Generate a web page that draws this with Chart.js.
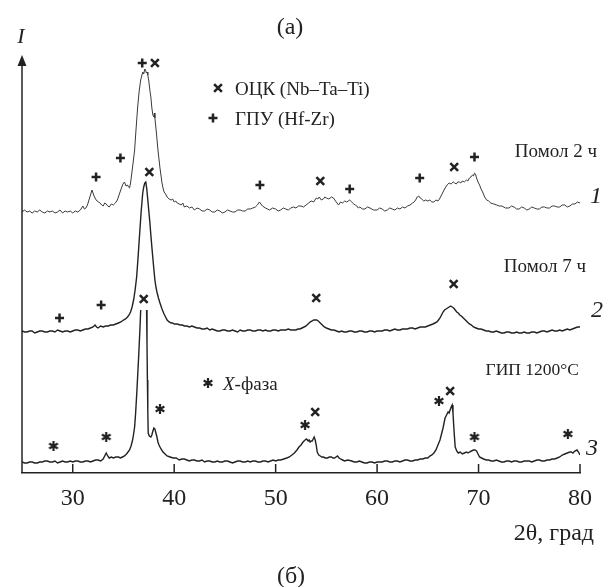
<!DOCTYPE html>
<html>
<head>
<meta charset="utf-8">
<script src="https://cdn.jsdelivr.net/npm/chart.js@4.4.0/dist/chart.umd.min.js"></script>
<style>
html, body { margin: 0; padding: 0; background: #fff; }
</style>
</head>
<body>
<canvas id="xrdChart" width="608" height="587"></canvas>
<script>
// 2theta (deg) and intensity (arb. units, curves stacked as in the figure)
var theta1 = [
    25.0,25.25,25.5,25.75,26.0,26.25,26.5,26.75,27.0,27.25,
    27.5,27.75,28.0,28.25,28.5,28.75,29.0,29.25,29.5,29.75,
    30.0,30.25,30.5,30.75,31.0,31.15,31.3,31.45,31.6,31.75,
    31.9,32.0,32.1,32.25,32.4,32.55,32.7,32.85,33.0,33.15,
    33.3,33.45,33.6,33.8,34.0,34.2,34.4,34.6,34.8,34.95,
    35.1,35.25,35.4,35.5,35.6,35.7,35.8,35.95,36.1,36.25,
    36.4,36.55,36.7,36.8,36.9,37.0,37.1,37.18,37.25,37.33,
    37.4,37.5,37.6,37.7,37.8,37.9,38.0,38.05,38.1,38.25,
    38.4,38.6,38.8,38.9,39.0,39.15,39.3,39.5,39.7,39.85,
    40.0,40.15,40.3,40.5,40.7,40.85,41.0,41.25,41.5,41.75,
    42.0,42.25,42.5,42.75,43.0,43.25,43.5,43.75,44.0,44.25,
    44.5,44.75,45.0,45.25,45.5,45.75,46.0,46.25,46.5,46.75,
    47.0,47.25,47.5,47.75,48.0,48.2,48.4,48.55,48.7,48.85,
    49.0,49.2,49.4,49.7,50.0,50.25,50.5,50.75,51.0,51.25,
    51.5,51.75,52.0,52.25,52.5,52.75,53.0,53.25,53.5,53.75,
    54.0,54.15,54.3,54.5,54.7,54.85,55.0,55.25,55.5,55.7,
    55.9,56.05,56.2,56.4,56.6,56.8,57.0,57.15,57.3,57.5,
    57.7,57.85,58.0,58.15,58.3,58.55,58.8,59.05,59.3,59.65,
    60.0,60.25,60.5,60.75,61.0,61.25,61.5,61.75,62.0,62.25,
    62.5,62.75,63.0,63.25,63.5,63.65,63.8,63.95,64.1,64.25,
    64.4,64.6,64.8,65.0,65.2,65.4,65.6,65.8,66.0,66.15,
    66.3,66.5,66.7,66.9,67.1,67.3,67.5,67.65,67.8,67.95,
    68.1,68.25,68.4,68.6,68.8,68.95,69.1,69.25,69.4,69.5,
    69.6,69.7,69.8,69.95,70.1,70.25,70.4,70.6,70.8,71.0,
    71.2,71.5,71.8,72.05,72.3,72.65,73.0,73.25,73.5,73.75,
    74.0,74.25,74.5,74.75,75.0,75.25,75.5,75.75,76.0,76.25,
    76.5,76.75,77.0,77.25,77.5,77.75,78.0,78.25,78.5,78.75,
    79.0,79.25,79.5,79.75,80.0];
var int1 = [
    261,263,261,262,260,262,261,263,261,260,
    262,261,262,260,261,263,260,262,261,262,
    260,262,261,263,267,264,265,268,273,278,
    283,280,277,274,272,271,270,268,267,270,
    269,267,266,269,268,270,273,279,285,289,
    291,287,288,286,285,290,298,310,323,345,
    366,382,393,397,401,399,404,403,400,401,
    398,392,383,376,365,358,356,360,355,340,
    323,305,290,285,281,279,276,274,273,274,
    271,272,270,269,268,270,266,267,265,266,
    263,265,264,262,262,264,263,261,261,263,
    262,260,261,263,262,261,261,263,263,262,
    262,264,264,265,266,268,271,269,267,266,
    265,264,263,265,264,262,263,265,264,263,
    265,266,265,267,267,266,268,270,272,271,
    275,274,276,273,274,276,275,274,276,275,
    272,270,268,271,270,272,271,272,273,271,
    269,268,267,265,266,264,264,266,265,263,
    263,265,264,262,263,265,264,263,265,264,
    266,265,267,268,270,271,273,276,277,275,
    274,272,273,272,273,271,271,273,272,274,
    277,281,285,288,290,289,291,290,289,291,
    291,290,292,291,293,292,295,296,298,297,
    300,299,295,291,288,284,281,276,273,272,
    270,269,268,267,267,265,265,267,266,264,
    264,266,265,263,264,266,265,264,264,266,
    266,265,265,267,267,266,266,268,268,266,
    267,269,269,271,270];

var theta2 = [
    25.0,25.25,25.5,25.75,26.0,26.25,26.5,26.75,27.0,27.25,
    27.5,27.75,28.0,28.25,28.5,28.75,29.0,29.25,29.5,29.75,
    30.0,30.25,30.5,30.75,31.0,31.25,31.5,31.75,32.0,32.2,
    32.35,32.5,32.75,33.0,33.25,33.5,33.75,34.0,34.25,34.5,
    34.75,35.0,35.2,35.4,35.55,35.7,35.85,36.0,36.15,36.3,
    36.45,36.6,36.75,36.9,37.0,37.1,37.2,37.3,37.4,37.5,
    37.6,37.7,37.8,37.95,38.1,38.2,38.3,38.45,38.6,38.8,
    39.0,39.15,39.3,39.5,39.7,39.85,40.0,40.3,40.6,40.8,
    41.0,41.25,41.5,41.75,42.0,42.25,42.5,42.75,43.0,43.25,
    43.5,43.75,44.0,44.25,44.5,44.75,45.0,45.25,45.5,45.75,
    46.0,46.25,46.5,46.75,47.0,47.25,47.5,47.75,48.0,48.25,
    48.5,48.75,49.0,49.25,49.5,49.75,50.0,50.25,50.5,50.75,
    51.0,51.25,51.5,51.75,52.0,52.2,52.4,52.6,52.8,53.0,
    53.2,53.4,53.6,53.75,53.9,54.05,54.2,54.4,54.6,54.8,
    55.0,55.25,55.5,55.75,56.0,56.25,56.5,56.75,57.0,57.25,
    57.5,57.75,58.0,58.25,58.5,58.75,59.0,59.25,59.5,59.75,
    60.0,60.25,60.5,60.75,61.0,61.25,61.5,61.75,62.0,62.25,
    62.5,62.75,63.0,63.25,63.5,63.75,64.0,64.25,64.5,64.75,
    65.0,65.25,65.5,65.7,65.9,66.05,66.2,66.35,66.5,66.65,
    66.8,66.95,67.1,67.25,67.4,67.55,67.7,67.85,68.0,68.15,
    68.3,68.5,68.7,68.9,69.1,69.3,69.5,69.75,70.0,70.25,
    70.5,70.75,71.0,71.25,71.5,71.75,72.0,72.25,72.5,72.75,
    73.0,73.25,73.5,73.75,74.0,74.25,74.5,74.75,75.0,75.25,
    75.5,75.75,76.0,76.25,76.5,76.75,77.0,77.25,77.5,77.75,
    78.0,78.25,78.5,78.75,79.0,79.25,79.5,79.75,80.0];
var int2 = [
    142,141,141,142,142,140,141,142,142,141,
    141,142,142,141,143,142,141,142,142,141,
    142,143,143,142,143,144,144,145,146,148,
    146,145,147,146,147,147,148,148,149,150,
    151,153,154,156,158,161,166,173,183,196,
    217,240,262,280,286,290,291,284,273,262,
    251,238,226,209,193,186,181,175,170,164,
    159,156,153,151,150,150,149,149,148,148,
    147,147,146,147,146,145,145,144,144,145,
    143,144,143,142,142,143,143,142,142,143,
    142,141,143,142,142,143,143,142,142,143,
    143,142,143,142,142,143,143,142,143,143,
    143,144,143,143,143,144,144,145,146,147,
    149,151,152,153,153,153,152,150,148,146,
    145,144,143,143,142,141,142,141,141,142,
    142,141,141,142,142,141,141,142,142,141,
    142,142,142,143,143,142,143,144,143,143,
    144,144,144,145,145,144,145,146,146,146,
    147,148,149,150,151,153,155,158,161,163,
    164,165,166,167,166,165,163,161,160,158,
    157,155,153,151,149,148,146,145,144,144,
    143,142,142,141,141,142,141,140,140,141,
    141,140,140,141,140,140,141,140,140,141,
    141,140,141,142,142,141,142,143,142,142,
    143,142,143,144,143,144,145,146,146];

// null = top of the cut-off main peak
var theta3 = [
    25.0,25.25,25.5,25.75,26.0,26.25,26.5,26.75,27.0,27.25,
    27.5,27.75,28.0,28.25,28.5,28.75,29.0,29.25,29.5,29.75,
    30.0,30.25,30.5,30.75,31.0,31.25,31.5,31.75,32.0,32.25,
    32.5,32.75,33.0,33.15,33.3,33.45,33.6,33.8,34.0,34.25,
    34.5,34.7,34.9,35.1,35.3,35.45,35.6,35.75,35.9,36.0,
    36.1,36.2,36.33,36.43,36.53,36.62,36.7,37.0,37.28,37.32,
    37.36,37.4,37.44,37.55,37.7,37.8,37.9,38.0,38.1,38.2,
    38.3,38.4,38.5,38.7,38.9,39.1,39.3,39.6,39.9,40.2,
    40.5,40.75,41.0,41.25,41.5,41.75,42.0,42.25,42.5,42.75,
    43.0,43.25,43.5,43.75,44.0,44.25,44.5,44.75,45.0,45.25,
    45.5,45.75,46.0,46.25,46.5,46.75,47.0,47.25,47.5,47.75,
    48.0,48.25,48.5,48.75,49.0,49.25,49.5,49.75,50.0,50.25,
    50.5,50.8,51.1,51.35,51.6,51.85,52.1,52.3,52.5,52.7,
    52.9,53.05,53.2,53.3,53.4,53.5,53.6,53.7,53.8,53.9,
    54.0,54.1,54.25,54.4,54.55,54.7,54.9,55.1,55.3,55.5,
    55.65,55.8,55.95,56.1,56.25,56.4,56.6,56.8,57.1,57.5,
    57.75,58.0,58.25,58.5,58.75,59.0,59.25,59.5,59.75,60.0,
    60.25,60.5,60.75,61.0,61.25,61.5,61.75,62.0,62.25,62.5,
    62.75,63.0,63.25,63.5,63.75,64.0,64.25,64.5,64.75,65.0,
    65.2,65.4,65.6,65.8,66.0,66.2,66.35,66.5,66.6,66.7,
    66.85,67.0,67.1,67.2,67.3,67.4,67.48,67.55,67.62,67.7,
    67.85,68.0,68.2,68.4,68.6,68.8,68.95,69.1,69.3,69.5,
    69.65,69.8,69.95,70.1,70.3,70.5,70.75,71.0,71.25,71.5,
    71.75,72.0,72.25,72.5,72.75,73.0,73.25,73.5,73.75,74.0,
    74.25,74.5,74.75,75.0,75.25,75.5,75.75,76.0,76.25,76.5,
    76.75,77.0,77.25,77.5,77.75,78.0,78.25,78.5,78.75,79.0,
    79.15,79.3,79.5,79.7,79.85,80.0];
var int3 = [
    11,10,10,11,11,10,10,11,11,12,
    12,11,11,12,10,11,12,11,11,12,
    11,12,12,11,11,12,12,11,12,13,
    13,12,14,17,20,17,15,16,15,16,
    16,15,16,17,19,21,23,27,33,39,
    46,60,83,103,123,143,163,null,163,130,
    93,62,40,37,36,38,42,45,44,40,
    36,31,28,24,21,19,17,16,15,15,
    13,14,14,13,12,13,13,12,12,13,
    11,12,12,11,11,12,11,11,12,12,
    11,10,11,12,12,11,11,12,11,12,
    12,11,11,12,12,11,12,13,12,13,
    13,14,15,16,18,20,23,26,28,31,
    33,34,32,33,31,32,32,34,36,33,
    28,21,18,17,16,16,15,15,16,16,
    15,15,16,17,15,14,13,12,13,12,
    11,11,12,11,10,10,11,11,10,11,
    11,11,12,12,11,11,12,12,11,12,
    13,13,12,12,13,13,14,14,15,15,
    17,18,20,23,28,33,39,45,50,55,
    58,61,60,63,66,68,60,48,37,26,
    22,20,21,19,20,21,20,21,22,23,
    23,22,19,16,15,14,13,13,12,12,
    13,12,11,11,12,12,11,12,12,11,
    11,12,12,12,11,12,13,13,12,12,
    13,13,14,14,15,16,18,19,20,21,
    21,20,22,23,21,18];

// phase markers placed above the peaks
var bccTheta = [38.1,54.4,67.6,37.55,54.0,67.55,37.0,53.9,67.2];
var bccInt   = [410,292,306,301,175,189,174,61,82];
var hcpTheta = [36.85,32.3,34.7,48.45,57.3,64.2,69.6,28.7,32.8];
var hcpInt   = [410,296,315,288,284,295,316,155,168];
var xPhaseTheta = [28.1,33.3,38.6,52.9,66.1,69.6,78.8];
var xPhaseInt   = [27,36,64,48,72,36,39];

var xTicks = [30, 40, 50, 60, 70, 80];

function toPoints(xs, ys) {
    return xs.map(function(x, i) { return { x: x, y: ys[i] }; });
}

var SERIF = '"Liberation Serif", "DejaVu Serif", serif';
var INK = '#222';

// six-armed asterisk used for the X-phase marks
function makeAsterisk(r, lw) {
    var c = document.createElement('canvas');
    c.width = c.height = Math.ceil(2 * r + 4);
    var g = c.getContext('2d');
    var m = c.width / 2;
    g.strokeStyle = INK;
    g.lineWidth = lw;
    for (var k = 0; k < 3; k++) {
        var a = Math.PI / 2 + k * Math.PI / 3;
        g.beginPath();
        g.moveTo(m - r * Math.cos(a), m - r * Math.sin(a));
        g.lineTo(m + r * Math.cos(a), m + r * Math.sin(a));
        g.stroke();
    }
    return c;
}
var asterisk = makeAsterisk(5, 2.2);

var decorPlugin = {
    id: 'decor',
    afterDraw: function(chart) {
        var ctx = chart.ctx;
        var area = chart.chartArea;
        var xs = chart.scales.x;
        ctx.save();
        ctx.strokeStyle = INK;
        ctx.fillStyle = INK;
        ctx.lineWidth = 1.5;

        // y axis with arrow
        ctx.beginPath();
        ctx.moveTo(area.left, area.bottom);
        ctx.lineTo(area.left, area.top + 8);
        ctx.stroke();
        ctx.beginPath();
        ctx.moveTo(area.left, area.top);
        ctx.lineTo(area.left - 4.5, area.top + 11);
        ctx.lineTo(area.left + 4.5, area.top + 11);
        ctx.closePath();
        ctx.fill();

        // inward tick marks
        xTicks.forEach(function(v) {
            var px = xs.getPixelForValue(v);
            ctx.beginPath();
            ctx.moveTo(px, area.bottom);
            ctx.lineTo(px, area.bottom - 9);
            ctx.stroke();
        });

        function txt(s, x, y, font, align) {
            ctx.font = font;
            ctx.textAlign = align || 'left';
            ctx.textBaseline = 'alphabetic';
            ctx.fillText(s, x, y);
        }

        txt('(a)', 290, 34, '24px ' + SERIF, 'center');
        txt('(б)', 291, 583, '24px ' + SERIF, 'center');
        txt('I', 21, 43, 'italic 22px ' + SERIF, 'center');
        txt('2θ, град', 594, 540, '24px ' + SERIF, 'right');

        // legend
        ctx.lineWidth = 2.5;
        Chart.helpers.drawPoint(ctx, { pointStyle: 'crossRot', radius: 5.5, borderWidth: 2.5, rotation: 0 }, 218, 88);
        Chart.helpers.drawPoint(ctx, { pointStyle: 'cross', radius: 4.5, borderWidth: 2.5, rotation: 0 }, 213, 118);
        ctx.drawImage(asterisk, 208 - asterisk.width / 2, 383 - asterisk.height / 2);
        txt('ОЦК (Nb–Ta–Ti)', 235, 95, '19px ' + SERIF);
        txt('ГПУ (Hf-Zr)', 235, 125, '19px ' + SERIF);
        txt('X', 223, 390, 'italic 19px ' + SERIF);
        var wX = ctx.measureText('X').width;
        txt('-фаза', 223 + wX, 390, '19px ' + SERIF);

        // curve labels
        txt('Помол 2 ч', 597, 157, '19px ' + SERIF, 'right');
        txt('Помол 7 ч', 586, 272, '19px ' + SERIF, 'right');
        txt('ГИП 1200°C', 579, 375, '17.5px ' + SERIF, 'right');
        txt('1', 590, 203, 'italic 24px ' + SERIF);
        txt('2', 591, 317, 'italic 24px ' + SERIF);
        txt('3', 586, 455, 'italic 24px ' + SERIF);
        ctx.restore();
    }
};

var lineStyle = {
    showLine: true,
    pointRadius: 0,
    borderColor: INK,
    spanGaps: false,
    tension: 0
};

var markerStyle = {
    showLine: false,
    pointBackgroundColor: INK,
    pointBorderColor: INK,
    clip: false
};

var ctx = document.getElementById('xrdChart').getContext('2d');
var xrdChart = new Chart(ctx, {
    type: 'scatter',
    data: {
        datasets: [
            Object.assign({ label: 'Помол 2 ч', data: toPoints(theta1, int1), borderWidth: 1 }, lineStyle, { borderColor: '#3a3a3a' }),
            Object.assign({ label: 'Помол 7 ч', data: toPoints(theta2, int2), borderWidth: 1.4 }, lineStyle),
            Object.assign({ label: 'ГИП 1200°C', data: toPoints(theta3, int3), borderWidth: 1.4 }, lineStyle),
            Object.assign({ label: 'ОЦК', data: toPoints(bccTheta, bccInt), pointStyle: 'crossRot', pointRadius: 5.5, pointBorderWidth: 2.5 }, markerStyle),
            Object.assign({ label: 'ГПУ', data: toPoints(hcpTheta, hcpInt), pointStyle: 'cross', pointRadius: 4.5, pointBorderWidth: 2.5 }, markerStyle),
            Object.assign({ label: 'X-фаза', data: toPoints(xPhaseTheta, xPhaseInt), pointStyle: asterisk, pointRadius: 5 }, markerStyle)
        ]
    },
    options: {
        responsive: false,
        animation: false,
        layout: { padding: { left: 22, right: 28, top: 55, bottom: 0 } },
        plugins: {
            legend: { display: false },
            tooltip: { enabled: false }
        },
        scales: {
            x: {
                type: 'linear',
                min: 25,
                max: 80,
                afterBuildTicks: function(scale) {
                    scale.ticks = xTicks.map(function(v) { return { value: v }; });
                },
                afterFit: function(scale) { scale.height = 114; },
                grid: { display: false },
                border: { display: true, color: INK, width: 1.5 },
                ticks: {
                    color: INK,
                    padding: 3,
                    maxRotation: 0,
                    font: { family: SERIF, size: 24 }
                }
            },
            y: {
                display: false,
                min: 0,
                max: 418
            }
        }
    },
    plugins: [decorPlugin]
});
</script>
</body>
</html>
